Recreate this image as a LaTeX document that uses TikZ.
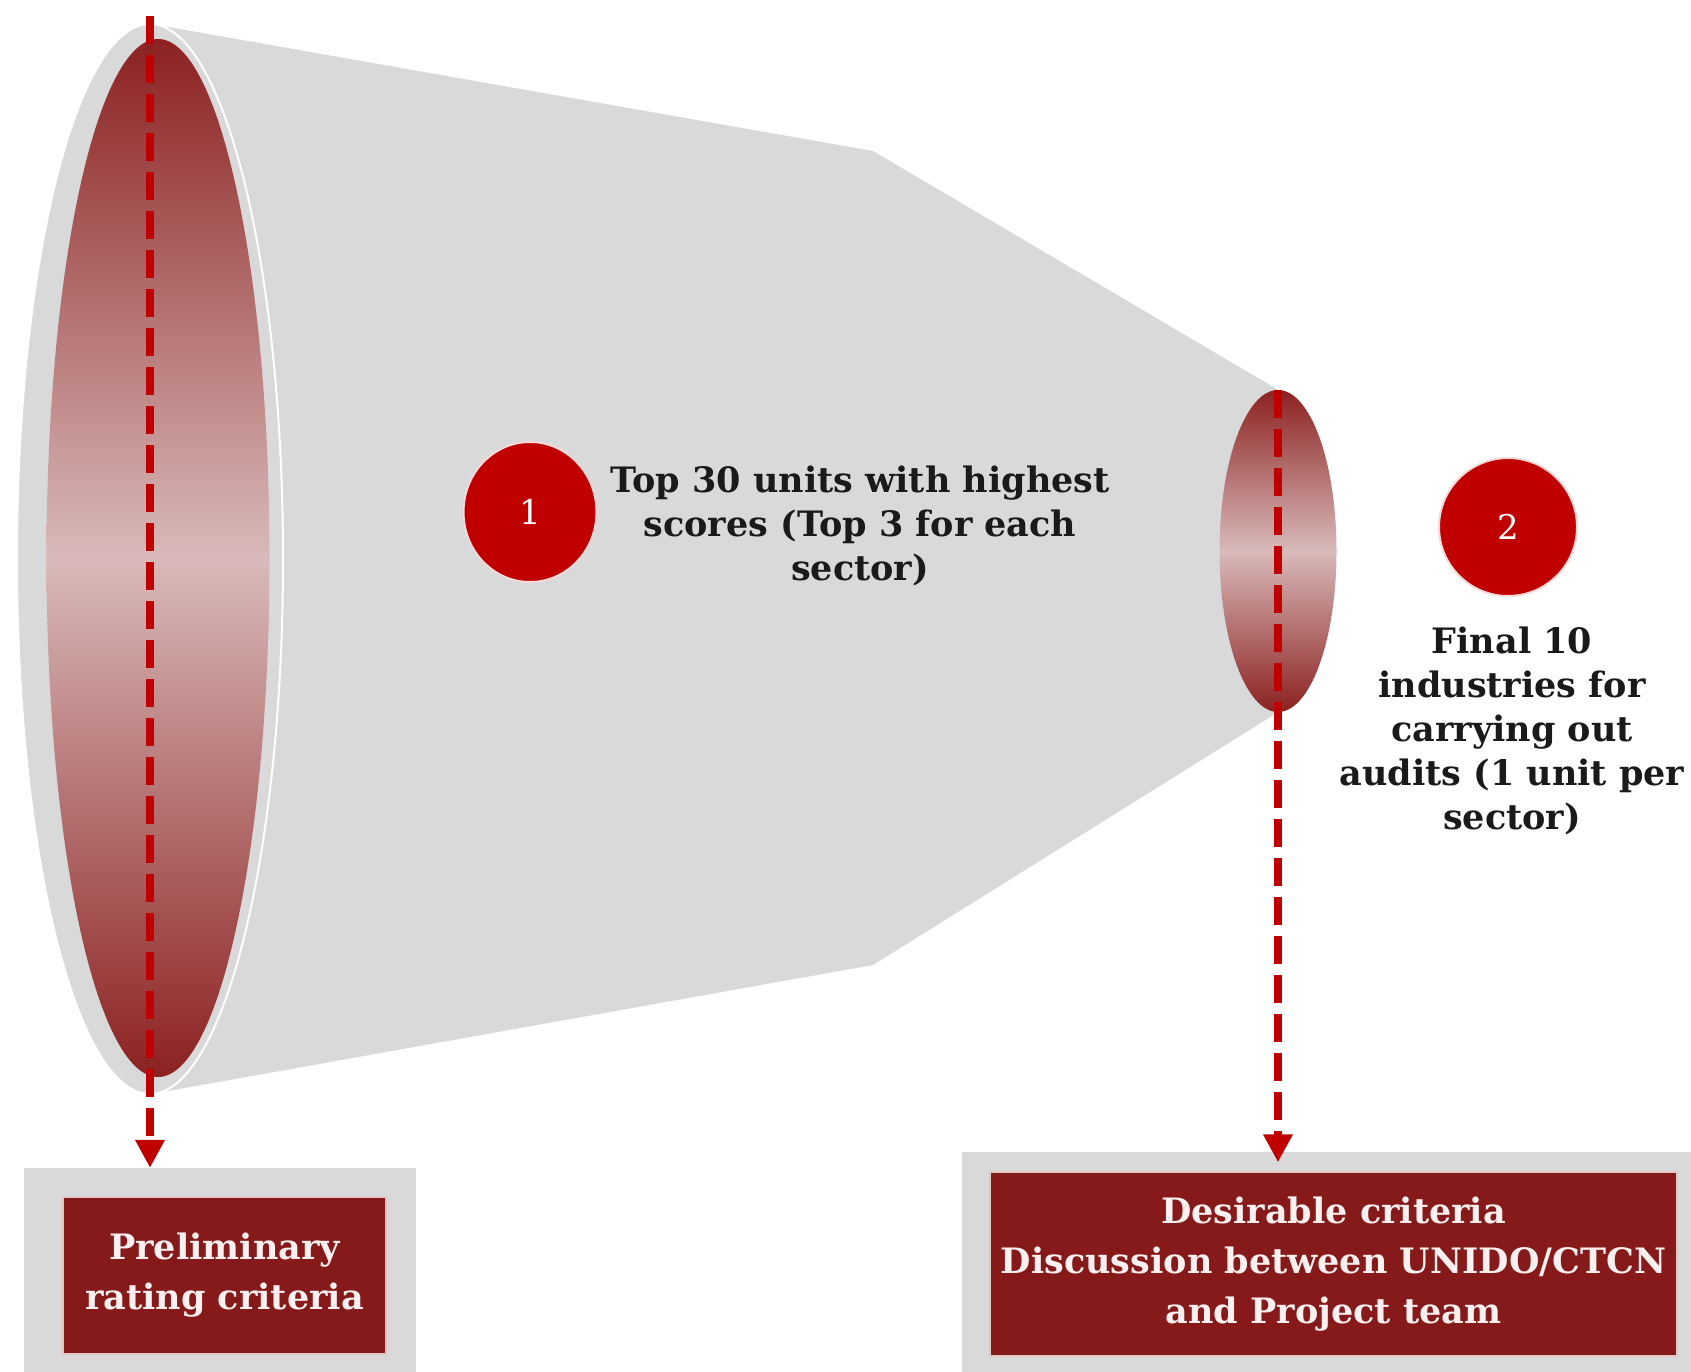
\documentclass[tikz,border=0pt]{standalone}
\usepackage{fontspec}
\setmainfont{DejaVu Serif}
\usetikzlibrary{shapes.geometric,arrows.meta,calc}

\definecolor{funnelgrey}{HTML}{D9D9D9}
\definecolor{boxred}{HTML}{861A1A}
\definecolor{dashred}{HTML}{C00000}
\definecolor{mouthdark}{HTML}{8C2121}
\definecolor{mouthlight}{HTML}{D9BABA}
\definecolor{labelink}{HTML}{1A1A1A}
\definecolor{boxink}{HTML}{FAF0F0}

\begin{document}
\begin{tikzpicture}[x=1pt,y=-1pt,
  rim/.style={ellipse, inner sep=0pt, fill=funnelgrey, draw=white, line width=2},
  mouth/.style={ellipse, inner sep=0pt, top color=mouthdark, bottom color=mouthdark, middle color=mouthlight},
  flowdash/.style={draw=dashred, line width=8, dash pattern=on 28 off 11,
    -{Triangle[width=28,length=28]}},
  stepnum/.style={ellipse, inner sep=0pt, fill=dashred, draw=white!85!dashred, line width=2,
    text=white, font=\fontsize{34}{40}\selectfont},
  steplabel/.style={align=center, text=labelink, font=\bfseries\fontsize{35}{44}\selectfont},
  frame/.style={rectangle, inner sep=0pt, fill=funnelgrey},
  critbox/.style={rectangle, inner sep=0pt, fill=boxred, draw=white!75!boxred, line width=1.5,
    align=center, text=boxink, font=\bfseries\fontsize{35}{50}\selectfont}
]
\useasboundingbox (0,0) rectangle (1691,1372);

% funnel end caps (positions only)
\node[ellipse, inner sep=0pt, minimum width=266, minimum height=1070] (outer) at (150,559) {};
\node[ellipse, inner sep=0pt, minimum width=117, minimum height=322] (neck) at (1278,551) {};

% funnel body
\fill[funnelgrey] (outer.north) -- (873,151) -- (neck.north) -- (neck.south)
  -- (873,965) -- (outer.south) -- cycle;
\node[rim, minimum width=266, minimum height=1070] at (outer) {};
\node[mouth, minimum width=223, minimum height=1038] (mouthL) at (158,558) {};
\node[mouth, minimum width=117, minimum height=322] at (neck) {};

% criteria boxes
\node[frame, minimum width=392, minimum height=204] (lframe) at (220,1270) {};
\node[critbox, minimum width=323, minimum height=157] (lbox) at (224.5,1275.5)
  {Preliminary\\rating criteria};
\node[frame, minimum width=729, minimum height=220] (rframe) at (1326.5,1262) {};
\node[critbox, minimum width=687, minimum height=184] (rbox) at (1333.5,1264)
  {Desirable criteria\\Discussion between UNIDO/CTCN\\and Project team};

% dashed flow lines
\coordinate (ltop) at (150,16);
\draw[flowdash] (ltop) -- (ltop |- lframe.north);
\draw[flowdash] (neck.north) -- ($(neck |- rbox.north)+(0,-9)$);

% steps
\node[stepnum, minimum width=133, minimum height=140] (s1) at (530,512) {1};
\node[steplabel] (t1) at (860,526) {Top 30 units with highest\\scores (Top 3 for each\\sector)};
\node[stepnum, minimum width=138, minimum height=138] (s2) at (1508,527) {2};
\node[steplabel] (t2) at (1512,731) {Final 10\\industries for\\carrying out\\audits (1 unit per\\sector)};
\end{tikzpicture}
\end{document}
